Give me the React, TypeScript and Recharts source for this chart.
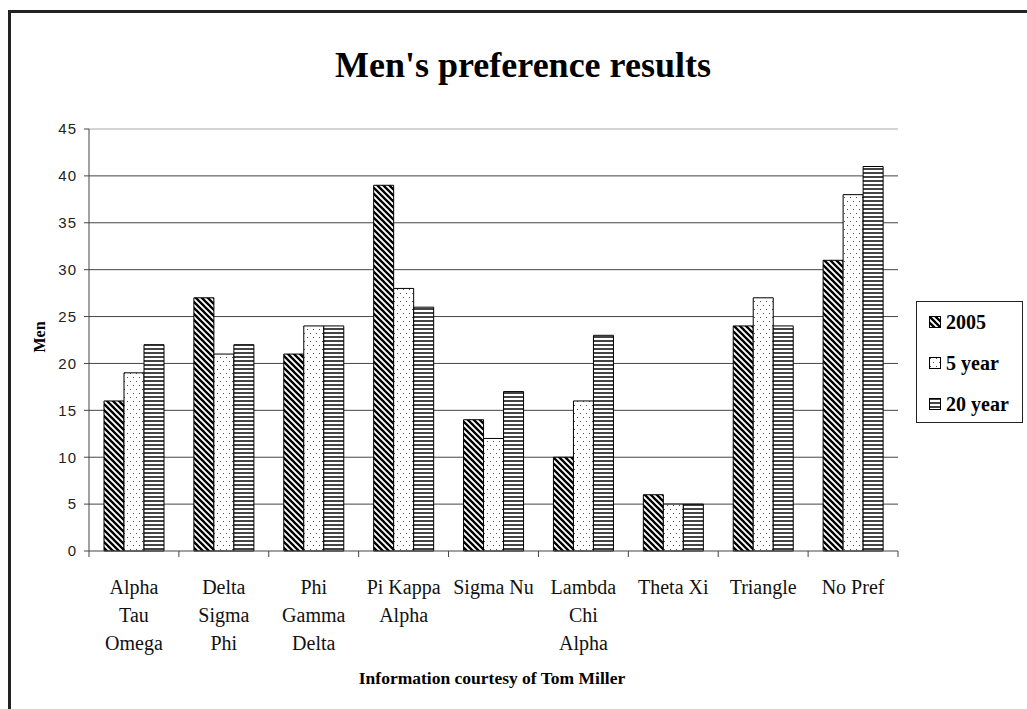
import React from 'react';
import { BarChart, Bar, XAxis, YAxis, CartesianGrid, ReferenceLine } from 'recharts';

const categories = [
  'Alpha Tau Omega',
  'Delta Sigma Phi',
  'Phi Gamma Delta',
  'Pi Kappa Alpha',
  'Sigma Nu',
  'Lambda Chi Alpha',
  'Theta Xi',
  'Triangle',
  'No Pref',
];
const tickLabelLines = [
  ['Alpha', 'Tau', 'Omega'],
  ['Delta', 'Sigma', 'Phi'],
  ['Phi', 'Gamma', 'Delta'],
  ['Pi Kappa', 'Alpha'],
  ['Sigma Nu'],
  ['Lambda', 'Chi', 'Alpha'],
  ['Theta Xi'],
  ['Triangle'],
  ['No Pref'],
];
const series2005 = [16, 27, 21, 39, 14, 10, 6, 24, 31];
const series5Year = [19, 21, 24, 28, 12, 16, 5, 27, 38];
const series20Year = [22, 22, 24, 26, 17, 23, 5, 24, 41];
const seriesNames = ['2005', '5 year', '20 year'];
const seriesPatterns = ['pat2005', 'pat5', 'pat20'];
const yTicks = [0, 5, 10, 15, 20, 25, 30, 35, 40, 45];
const gridValues = [5, 10, 15, 20, 25, 30, 35, 40];

const data = categories.map((c, i) => ({
  category: c,
  y2005: series2005[i],
  y5: series5Year[i],
  y20: series20Year[i],
}));

const SERIF = '"Liberation Serif", "Times New Roman", Times, serif';
const SANS = '"Liberation Sans", Arial, sans-serif';

const CategoryTick = (props: any) => {
  const { x, y, payload, index, visibleTicksCount } = props;
  const idx = categories.indexOf(payload && payload.value);
  const lines = tickLabelLines[idx] || [];
  const half = (payload && payload.offset) || 0;
  const isLast = index === (visibleTicksCount || categories.length) - 1;
  return (
    <g>
      <line x1={x - half} x2={x - half} y1={y} y2={y + 6} stroke="#444" strokeWidth={1} />
      {isLast ? <line x1={x + half} x2={x + half} y1={y} y2={y + 6} stroke="#444" strokeWidth={1} /> : null}
      <text x={x} y={y} textAnchor="middle" fontFamily={SERIF} fontSize={20} fill="#111">
        {lines.map((l, i) => (
          <tspan key={i} x={x} dy={i === 0 ? 43 : 28}>
            {l}
          </tspan>
        ))}
      </text>
    </g>
  );
};

export default function App() {
  return (
    <div style={{ position: 'relative', width: 1027, height: 709, overflow: 'hidden', background: '#fff' }}>
      <style>{'html,body{margin:0;padding:0;overflow:hidden;}'}</style>
      <svg width={0} height={0} style={{ position: 'absolute' }}>
        <defs>
          <pattern id="pat2005" patternUnits="userSpaceOnUse" width={6} height={6}>
            <rect width={6} height={6} fill="#fff" />
            <path d="M-1,-1 L7,7 M-1,5 L1,7 M5,-1 L7,1" stroke="#000" strokeWidth={2.3} />
          </pattern>
          <pattern id="pat5" patternUnits="userSpaceOnUse" width={6} height={8}>
            <rect width={6} height={8} fill="#fff" />
            <rect x={1} y={1} width={1} height={1} fill="#555" />
            <rect x={4} y={5} width={1} height={1} fill="#555" />
          </pattern>
          <pattern id="pat20" patternUnits="userSpaceOnUse" width={4} height={4}>
            <rect width={4} height={4} fill="#fff" />
            <rect x={0} y={0} width={4} height={2} fill="#444" />
          </pattern>
        </defs>
      </svg>

      <div
        style={{
          position: 'absolute',
          left: 8,
          top: 10,
          width: 1040,
          height: 740,
          border: '3px solid #222',
          boxSizing: 'border-box',
        }}
      />

      <div style={{ position: 'absolute', left: 0, top: 0 }}>
        <BarChart
          width={1027}
          height={709}
          data={data}
          margin={{ top: 129, right: 129, bottom: 58, left: 49 }}
          barCategoryGap={15}
          barGap={0}
        >
          <CartesianGrid
            vertical={false}
            horizontalValues={gridValues}
            stroke="#444"
            strokeWidth={1}
          />
          <XAxis
            dataKey="category"
            type="category"
            height={100}
            interval={0}
            axisLine={{ stroke: '#444' }}
            tickLine={false}
            tickSize={0}
            tickMargin={0}
            tick={<CategoryTick />}
          />
          <YAxis
            domain={[0, 45]}
            ticks={yTicks}
            width={40}
            tickSize={5}
            tickMargin={7}
            axisLine={{ stroke: '#444' }}
            tickLine={{ stroke: '#444' }}
            tick={{ fontSize: 15, fill: '#222', fontFamily: SANS, letterSpacing: 1 }}
          />
          <YAxis
            yAxisId="right"
            orientation="right"
            domain={[0, 45]}
            width={0}
            tick={false}
            tickLine={false}
            axisLine={{ stroke: '#aaa' }}
          />
          <ReferenceLine y={45} stroke="#aaa" />
          <Bar dataKey="y2005" name={seriesNames[0]} fill="url(#pat2005)" stroke="#000" strokeWidth={1} isAnimationActive={false} />
          <Bar dataKey="y5" name={seriesNames[1]} fill="url(#pat5)" stroke="#000" strokeWidth={1} isAnimationActive={false} />
          <Bar dataKey="y20" name={seriesNames[2]} fill="url(#pat20)" stroke="#000" strokeWidth={1} isAnimationActive={false} />
        </BarChart>
      </div>

      <div
        style={{
          position: 'absolute',
          left: 223,
          top: 44,
          width: 600,
          textAlign: 'center',
          fontFamily: SERIF,
          fontWeight: 'bold',
          fontSize: 36,
          lineHeight: '42px',
          color: '#000',
        }}
      >
        Men's preference results
      </div>

      <div
        style={{
          position: 'absolute',
          left: 0,
          top: 327,
          width: 80,
          height: 20,
          lineHeight: '20px',
          textAlign: 'center',
          transform: 'rotate(-90deg)',
          fontFamily: SERIF,
          fontWeight: 'bold',
          fontSize: 16,
          color: '#000',
        }}
      >
        Men
      </div>

      <div
        style={{
          position: 'absolute',
          left: 292,
          top: 667,
          width: 400,
          textAlign: 'center',
          fontFamily: SERIF,
          fontWeight: 'bold',
          fontSize: 17.5,
          lineHeight: '22px',
          color: '#000',
        }}
      >
        Information courtesy of Tom Miller
      </div>

      <div
        style={{
          position: 'absolute',
          left: 916,
          top: 301,
          width: 107,
          height: 122,
          border: '1px solid #222',
          boxSizing: 'border-box',
          background: '#fff',
        }}
      >
        {seriesNames.map((name, i) => (
          <div
            key={name}
            style={{
              position: 'absolute',
              left: 12,
              top: 8 + i * 41,
              height: 24,
              display: 'flex',
              alignItems: 'center',
              fontFamily: SERIF,
              fontWeight: 'bold',
              fontSize: 20,
              color: '#000',
              whiteSpace: 'nowrap',
            }}
          >
            <svg width={12} height={12} style={{ marginRight: 5 }}>
              <rect x={0.5} y={0.5} width={11} height={11} fill={`url(#${seriesPatterns[i]})`} stroke="#000" strokeWidth={1} />
            </svg>
            {name}
          </div>
        ))}
      </div>
    </div>
  );
}
